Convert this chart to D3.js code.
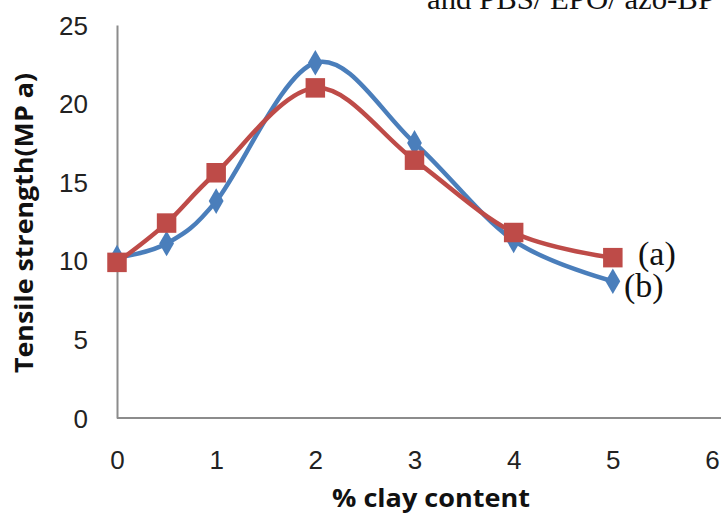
<!DOCTYPE html>
<html>
<head>
<meta charset="utf-8">
<script src="https://cdn.jsdelivr.net/npm/d3@7"></script>
<style>
  body { margin: 0; background: #fff; }
  svg { display: block; }
</style>
</head>
<body>
<svg id="chart" width="721" height="516"></svg>
<script>
// % clay content
const clay = [0, 0.5, 1, 2, 3, 4, 5];
// tensile strength, MPa
const seriesA = [9.9, 12.4, 15.6, 21.0, 16.4, 11.8, 10.2];
const seriesB = [10.2, 11.1, 13.8, 22.6, 17.5, 11.3, 8.7];
const xTicks = [0, 1, 2, 3, 4, 5, 6];
const yTicks = [0, 5, 10, 15, 20, 25];

const svg = d3.select('#chart');

const x = d3.scaleLinear().domain([0, 6]).range([117, 712]);
const y = d3.scaleLinear().domain([0, 25]).range([418, 25]);

const tickFont = '"Liberation Sans Narrow", "Arial Narrow", sans-serif';
const titleFont = '"Open Sans", "DejaVu Sans", sans-serif';

// clipped caption from the page above the figure
svg.append('text')
  .attr('x', 427)
  .attr('y', 9)
  .attr('font-family', '"Liberation Serif", serif')
  .attr('font-size', 30)
  .attr('textLength', 288)
  .attr('lengthAdjust', 'spacingAndGlyphs')
  .attr('fill', '#111')
  .text('and PBS/ EPO/ azo-BP');

// axes: plain grey lines, no tick marks
svg.append('g')
  .attr('transform', 'translate(0,' + y(0) + ')')
  .call(d3.axisBottom(x).tickValues(xTicks).tickSize(0).tickPadding(33).tickFormat(d3.format('d')))
  .call(g => g.select('.domain').attr('stroke', '#8c8c8c').attr('stroke-width', 2).attr('d', 'M' + x(0) + ',0H721'))
  .call(g => g.selectAll('text')
    .attr('font-family', tickFont).attr('font-size', 26).attr('fill', '#222'));

svg.append('g')
  .attr('transform', 'translate(' + x(0) + ',0)')
  .call(d3.axisLeft(y).tickValues(yTicks).tickSize(0).tickPadding(29))
  .call(g => g.select('.domain').attr('stroke', '#8c8c8c').attr('stroke-width', 2))
  .call(g => g.selectAll('text')
    .attr('font-family', tickFont).attr('font-size', 26).attr('fill', '#222')
    .attr('dy', '0.35em'));

// axis titles
svg.append('text')
  .attr('x', 431)
  .attr('y', 507)
  .attr('text-anchor', 'middle')
  .attr('font-family', titleFont)
  .attr('font-weight', 'bold')
  .attr('font-size', 25)
  .attr('textLength', 198)
  .attr('lengthAdjust', 'spacingAndGlyphs')
  .attr('fill', '#111')
  .text('% clay content');

svg.append('text')
  .attr('transform', 'translate(33,223) rotate(-90)')
  .attr('text-anchor', 'middle')
  .attr('font-family', titleFont)
  .attr('font-weight', 'bold')
  .attr('font-size', 25)
  .attr('textLength', 300)
  .attr('lengthAdjust', 'spacingAndGlyphs')
  .attr('fill', '#111')
  .text('Tensile strength(MP a)');

// smoothed lines like the spreadsheet chart
const line = d3.line()
  .x((d, i) => x(clay[i]))
  .y(d => y(d))
  .curve(d3.curveCardinal);

function drawSeries(values, color, symbol, size) {
  svg.append('path')
    .attr('d', line(values))
    .attr('fill', 'none')
    .attr('stroke', color)
    .attr('stroke-width', 4.5)
    .attr('stroke-linejoin', 'round');

  svg.append('g').selectAll('path').data(values).enter()
    .append('path')
      .attr('transform', (d, i) => 'translate(' + x(clay[i]) + ',' + y(d) + ')')
      .attr('d', d3.symbol().type(symbol).size(size))
      .attr('fill', color);
}

drawSeries(seriesB, '#4a7ebb', d3.symbolDiamond, 190);
drawSeries(seriesA, '#be4b48', d3.symbolSquare, 380);

// series labels
svg.append('text')
  .attr('x', 638)
  .attr('y', 265)
  .attr('font-family', '"Liberation Serif", serif')
  .attr('font-size', 34)
  .attr('fill', '#111')
  .text('(a)');

svg.append('text')
  .attr('x', 624)
  .attr('y', 297)
  .attr('font-family', '"Liberation Serif", serif')
  .attr('font-size', 34)
  .attr('fill', '#111')
  .text('(b)');
</script>
</body>
</html>
